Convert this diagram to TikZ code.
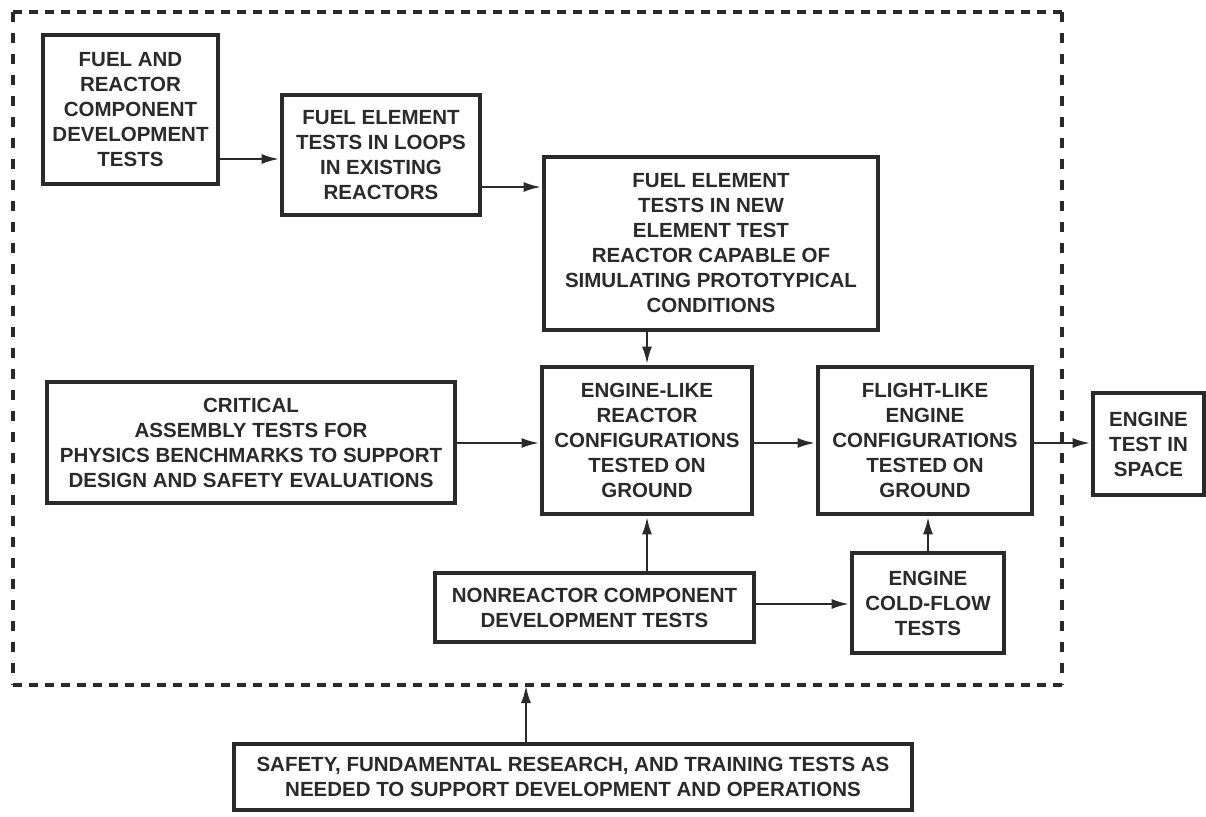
\documentclass[tikz,border=0pt]{standalone}
\usepackage{fontspec}
\setmainfont{Liberation Sans}
\usetikzlibrary{arrows.meta}
\definecolor{ink}{HTML}{2A2A2A}
\tikzset{
  box/.style={draw=ink, line width=4.8pt, fill=white, text=ink, align=center,
    inner sep=0pt, font=\fontsize{20.5}{25}\selectfont\bfseries},
  arr/.style={draw=ink, line width=2.8pt, -{Latex[length=18pt,width=10pt]}},
  dashh/.style={draw=ink, line width=3.5pt, dash pattern=on 9pt off 7pt},
  dashv/.style={draw=ink, line width=3.5pt, dash pattern=on 10pt off 11pt}
}
\begin{document}
\begin{tikzpicture}[x=1pt,y=-1pt]
\useasboundingbox (0,0) rectangle (1206,816);
\fill[white] (0,0) rectangle (1206,816);
% dashed frame
\coordinate (tl) at (13,12);
\coordinate (tr) at (1062,12);
\coordinate (br) at (1062,685);
\coordinate (bl) at (13,685);
\coordinate (fb) at (526,685);
\draw[dashh] (tl) -- (tr);
\draw[dashh] (bl) -- (br);
\draw[dashv] (tl) -- (bl);
\draw[dashv] (tr) -- (br);
% boxes
\node[box, minimum width=175pt, minimum height=149pt] (A) at (130.5,109.5)
  {FUEL AND\\REACTOR\\COMPONENT\\DEVELOPMENT\\TESTS};
\node[box, minimum width=198pt, minimum height=120pt] (B) at (381,155)
  {FUEL ELEMENT\\TESTS IN LOOPS\\IN EXISTING\\REACTORS};
\node[box, minimum width=334pt, minimum height=173pt] (C) at (711,243.5)
  {FUEL ELEMENT\\TESTS IN NEW\\ELEMENT TEST\\REACTOR CAPABLE OF\\SIMULATING PROTOTYPICAL\\CONDITIONS};
\node[box, minimum width=408pt, minimum height=121pt] (D) at (251,442.5)
  {CRITICAL\\ASSEMBLY TESTS FOR\\PHYSICS BENCHMARKS TO SUPPORT\\DESIGN AND SAFETY EVALUATIONS};
\node[box, minimum width=210pt, minimum height=147pt] (E) at (647,440.5)
  {ENGINE-LIKE\\REACTOR\\CONFIGURATIONS\\TESTED ON\\GROUND};
\node[box, minimum width=214pt, minimum height=147pt] (F) at (925,440.5)
  {FLIGHT-LIKE\\ENGINE\\CONFIGURATIONS\\TESTED ON\\GROUND};
\node[box, minimum width=111pt, minimum height=102pt] (G) at (1148.5,444)
  {ENGINE\\TEST IN\\SPACE};
\node[box, minimum width=319pt, minimum height=69pt] (H) at (594.5,607.5)
  {NONREACTOR COMPONENT\\DEVELOPMENT TESTS};
\node[box, minimum width=152pt, minimum height=100pt] (I) at (928,603)
  {ENGINE\\COLD-FLOW\\TESTS};
\node[box, minimum width=678pt, minimum height=66pt] (J) at (573,777)
  {SAFETY, FUNDAMENTAL RESEARCH, AND TRAINING TESTS AS\\NEEDED TO SUPPORT DEVELOPMENT AND OPERATIONS};
% connectors
\draw[arr] (A.east |- 0,159) -- (B.west |- 0,159);
\draw[arr] (B.east |- 0,187) -- (C.west |- 0,187);
\draw[arr] (C.south -| E.north) -- (E.north);
\draw[arr] (D.east |- 0,443) -- (E.west |- 0,443);
\draw[arr] (E.east |- 0,443) -- (F.west |- 0,443);
\draw[arr] (F.east |- 0,443) -- (G.west |- 0,443);
\draw[arr] (H.north -| E.south) -- (E.south);
\draw[arr] (H.east |- 0,604) -- (I.west |- 0,604);
\draw[arr] (I.north) -- (I.north |- F.south);
\draw[arr] (J.north -| fb) -- (fb);
\end{tikzpicture}
\end{document}
